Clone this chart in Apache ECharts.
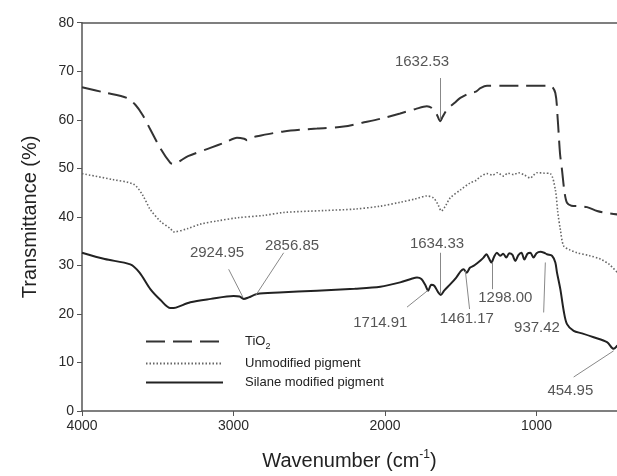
<!DOCTYPE html>
<html><head><meta charset="utf-8">
<script src="https://cdn.jsdelivr.net/npm/echarts@6/dist/echarts.min.js"></script>
<style>html,body{margin:0;padding:0;background:#fff}#c{width:617px;height:476px}</style>
</head><body><div id="c"></div>
<script>
const xTicks = [1000, 2000, 3000, 4000];
const yTicks = [0, 10, 20, 30, 40, 50, 60, 70, 80];
const tio2 = [[4000,66.7],[3850,65.6],[3703,64.5],[3648,63.1],[3600,61],[3549,58],[3480,54],[3417,51.1],[3400,50.9],[3300,52.5],[3153,54.2],[3050,55.4],[2977,56.3],[2930,56.1],[2911,55.8],[2880,56.3],[2845,56.6],[2669,57.6],[2449,58.2],[2273,58.6],[2150,59.4],[2031,60.2],[1900,61.3],[1800,62.2],[1724,62.8],[1690,62.4],[1660,61.2],[1635,59.7],[1620,60.6],[1591,62.1],[1540,63.5],[1503,64.5],[1440,65.5],[1400,65.8],[1371,66.5],[1327,67.0],[1200,67.0],[1100,67.0],[1000,67.0],[909,67.0],[876,65.5],[860,60],[845,53],[832,49.7],[815,45],[799,42.9],[770,42.3],[720,42.2],[667,42.0],[600,41.2],[540,40.8],[466,40.5]];
const unmodified = [[4000,48.9],[3800,47.7],[3659,46.7],[3600,44.5],[3549,41.5],[3480,39],[3417,37.6],[3395,36.9],[3300,37.6],[3219,38.5],[3100,39.2],[2977,39.8],[2800,40.3],[2669,40.9],[2400,41.3],[2200,41.6],[2031,42.2],[1900,43],[1800,43.7],[1724,44.3],[1680,43.9],[1650,42.5],[1628,41.2],[1600,42.3],[1570,43.9],[1500,45.6],[1438,47.0],[1400,47.5],[1370,48.3],[1327,48.9],[1290,48.6],[1260,49.1],[1217,48.4],[1190,49.0],[1150,48.7],[1120,49.1],[1080,48.6],[1041,48.0],[1020,48.6],[997,49.1],[950,49.0],[909,48.9],[876,45.6],[860,41],[843,37.4],[821,34.0],[780,33.2],[733,32.6],[650,32],[579,31.3],[520,30.2],[466,28.5]];
const silane = [[4000,32.6],[3850,31.3],[3681,30.2],[3620,28.5],[3549,25.1],[3480,22.8],[3417,21.2],[3380,21.3],[3285,22.4],[3150,23.1],[2999,23.7],[2960,23.6],[2933,23.1],[2900,23.4],[2845,24.1],[2700,24.4],[2449,24.8],[2200,25.2],[2031,25.6],[1900,26.5],[1820,27.3],[1789,27.5],[1760,27.2],[1735,26.0],[1715,24.8],[1695,26.0],[1675,25.8],[1650,24.5],[1632,23.9],[1610,24.8],[1570,26.1],[1530,27.5],[1500,28.8],[1482,29.2],[1461,28.5],[1440,29.5],[1416,29.9],[1390,30.5],[1370,31.0],[1350,31.6],[1330,32.3],[1315,31.5],[1298,30.6],[1280,31.8],[1262,32.6],[1240,32.0],[1220,32.4],[1200,31.6],[1180,32.5],[1160,32.2],[1140,30.9],[1120,32.1],[1100,32.6],[1080,31.2],[1060,32.4],[1041,32.6],[1020,31.6],[1000,32.5],[975,32.8],[950,32.6],[931,32.3],[898,32.0],[876,30.6],[865,28.5],[843,25.1],[820,20.5],[799,17.9],[755,16.5],[700,16.0],[623,15.2],[535,14.2],[491,12.8],[466,13.5]];
// annotation text positions [wavenumber, T, label]
const annTexts = [[1756,71.9,'1632.53'],[3109,32.6,'2924.95'],[2614,34.0,'2856.85'],[1657,34.4,'1634.33'],[2031,18.1,'1714.91'],[1460,19.0,'1461.17'],[1206,23.4,'1298.00'],[997,17.2,'937.42'],[777,4.2,'454.95']];
// leader lines [[x1,y1],[x2,y2]]
const annLines = [[[1635,68.6],[1635,60.0]],[[3032,29.2],[2937,23.4]],[[2669,32.6],[2856,23.7]],[[1635,32.6],[1635,24.1]],[[1855,21.4],[1719,24.8]],[[1442,21.0],[1470,28.9]],[[1294,25.1],[1294,30.6]],[[953,20.3],[942,30.6]],[[755,7.0],[491,12.4]]];

const chart = echarts.init(document.getElementById('c'));
const axisCol = '#555';
chart.setOption({
  animation: false,
  grid: {left: 82, right: 0, top: 22.7, bottom: 63.7},
  legend: {
    orient: 'vertical', left: 140, top: 330, itemWidth: 77, itemHeight: 14, itemGap: 6,
    itemStyle: {opacity: 0},
    data: ['TiO2', 'Unmodified pigment', 'Silane modified pigment'],
    formatter: function (n) { return n === 'TiO2' ? '{g|}{t|TiO}{s|2}' : '{g|}{t|' + n + '}'; },
    textStyle: {color: '#222', fontFamily: 'Liberation Sans', fontSize: 13,
      rich: {g: {width: 17}, t: {fontSize: 13, color: '#222', fontFamily: 'Liberation Sans'},
             s: {fontSize: 9, color: '#222', fontFamily: 'Liberation Sans', verticalAlign: 'bottom', padding: [10, 0, 0, 0]}}}
  },
  xAxis: [{
    type: 'value', inverse: true, min: 469, max: 4000,
    name: '{a|Wavenumber (cm}{b|-1}{a|)}', nameLocation: 'middle', nameGap: 38,
    nameTextStyle: {rich: {a: {fontSize: 20, color: '#222', fontFamily: 'Liberation Sans'},
                           b: {fontSize: 12, color: '#222', fontFamily: 'Liberation Sans', padding: [0, 0, 12, 0]}}},
    axisLine: {show: true, lineStyle: {color: axisCol, width: 1.5}},
    axisTick: {show: true, inside: false, length: 5, customValues: xTicks, lineStyle: {color: axisCol}},
    axisLabel: {customValues: xTicks, formatter: v => String(v), color: '#2a2a2a', fontSize: 14, fontFamily: 'Liberation Sans', margin: 8},
    splitLine: {show: false}
  }, {
    type: 'value', position: 'top', inverse: true, min: 469, max: 4000,
    axisLine: {show: true, onZero: false, lineStyle: {color: axisCol, width: 1.5}},
    axisTick: {show: false}, axisLabel: {show: false}, splitLine: {show: false}
  }],
  yAxis: {
    type: 'value', min: 0, max: 80, interval: 10,
    name: 'Transmittance (%)', nameLocation: 'middle', nameGap: 42,
    nameTextStyle: {fontSize: 20, color: '#222', fontFamily: 'Liberation Sans'},
    axisLine: {show: true, lineStyle: {color: axisCol, width: 1.5}},
    axisTick: {show: true, length: 5, lineStyle: {color: axisCol}},
    axisLabel: {color: '#2a2a2a', fontSize: 14, fontFamily: 'Liberation Sans', margin: 8},
    splitLine: {show: false}
  },
  series: [
    {name: 'TiO2', type: 'line', data: tio2, symbol: 'none', smooth: 0.3,
     lineStyle: {color: '#333', width: 2, type: [19, 8]}, itemStyle: {color: '#333'}},
    {name: 'Unmodified pigment', type: 'line', data: unmodified, symbol: 'none', smooth: 0.3,
     lineStyle: {color: '#666', width: 1.6, type: [1.5, 2]}, itemStyle: {color: '#666'}},
    {name: 'Silane modified pigment', type: 'line', data: silane, symbol: 'none', smooth: 0.3,
     lineStyle: {color: '#222', width: 2, type: 'solid'}, itemStyle: {color: '#222'}},
    {name: 'ann', type: 'scatter', data: annTexts, symbolSize: 0, silent: true,
     label: {show: true, position: 'inside', formatter: p => p.value[2], color: '#2a2a2a', fontSize: 15, fontFamily: 'Liberation Sans'},
     markLine: {silent: true, symbol: 'none', label: {show: false}, lineStyle: {color: '#888', width: 1, type: 'solid'},
       data: annLines.map(l => [{coord: l[0]}, {coord: l[1]}])}}
  ]
});
</script></body></html>
